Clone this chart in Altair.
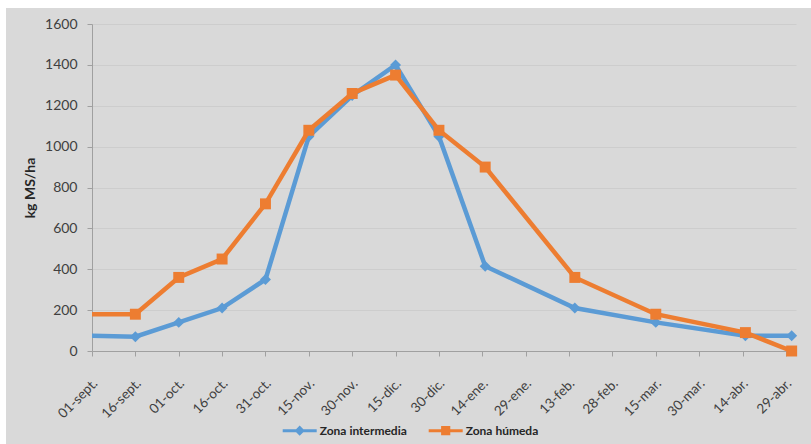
import altair as alt
import pandas as pd

# Fechas de muestreo (la primera queda antes del inicio del eje)
fechas = ["2014-08-17", "2014-09-16", "2014-10-01", "2014-10-16", "2014-10-31",
          "2014-11-15", "2014-11-30", "2014-12-15", "2014-12-30", "2015-01-15",
          "2015-02-15", "2015-03-15", "2015-04-15", "2015-05-01"]
zona_intermedia = [80, 70, 140, 210, 350, 1050, 1250, 1400, 1050, 415, 210, 140, 75, 75]
zona_humeda = [180, 180, 360, 450, 720, 1080, 1260, 1350, 1080, 900, 360, 180, 90, 0]

etiquetas_x = ["01-sept.", "16-sept.", "01-oct.", "16-oct.", "31-oct.", "15-nov.",
               "30-nov.", "15-dic.", "30-dic.", "14-ene.", "29-ene.", "13-feb.",
               "28-feb.", "15-mar.", "30-mar.", "14-abr.", "29-abr."]
valores_y = [0, 200, 400, 600, 800, 1000, 1200, 1400, 1600]

series = ["Zona intermedia", "Zona húmeda"]
colores = ["#5b9bd5", "#ed7d31"]
marcadores = ["diamond", "square"]
# Símbolos de la leyenda: trazo horizontal con su marcador
simbolos_leyenda = [
    "M-1,-0.09L1,-0.09L1,0.09L-1,0.09Z M0,-0.3L0.3,0L0,0.3L-0.3,0Z",
    "M-1,-0.09L1,-0.09L1,0.09L-1,0.09Z M-0.27,-0.27L0.27,-0.27L0.27,0.27L-0.27,0.27Z",
]

inicio = pd.Timestamp("2014-09-01")
dias = [(pd.Timestamp(f) - inicio).days for f in fechas]

df = pd.concat([
    pd.DataFrame({"fecha": fechas, "dia": dias, "serie": series[0], "valor": zona_intermedia}),
    pd.DataFrame({"fecha": fechas, "dia": dias, "serie": series[1], "valor": zona_humeda}),
], ignore_index=True)

lista_js = "[" + ",".join("'" + e + "'" for e in etiquetas_x) + "]"

x_enc = alt.X(
    "dia:Q",
    scale=alt.Scale(domain=[0, 243.5], nice=False, zero=False),
    axis=alt.Axis(
        values=list(range(0, 15 * len(etiquetas_x), 15)),
        labelExpr=lista_js + "[round(datum.value / 15)]",
        labelAngle=-45, labelAlign="right", labelBaseline="middle",
        labelOverlap=False, labelBound=False, labelFlush=False,
        labelFontSize=13.5, labelColor="#404040", labelPadding=25, labelOffset=3,
        tickSize=5, tickColor="#a0a0a0", domainColor="#a0a0a0",
        grid=False, title=None,
    ),
)
y_enc = alt.Y(
    "valor:Q",
    scale=alt.Scale(domain=[0, 1600], nice=False),
    axis=alt.Axis(
        values=valores_y, format="d", labelFontSize=14, labelColor="#404040", labelPadding=10,
        tickSize=5, tickColor="#a0a0a0", domainColor="#a0a0a0",
        gridColor="#cdcdcd", gridWidth=1.2,
        title="kg MS/ha", titleFontSize=14, titleFontWeight="bold",
        titleColor="#262626", titlePadding=7,
    ),
)

base = alt.Chart(df)

capas = []
for nombre, color, marca in zip(series, colores, marcadores):
    datos = base.transform_filter(alt.datum.serie == nombre)
    capas.append(datos.mark_line(color=color, strokeWidth=4.5, clip=True).encode(x=x_enc, y=y_enc))
    capas.append(
        datos.transform_filter(alt.datum.dia >= 0)
        .mark_point(shape=marca, filled=True, color=color, size=120, opacity=1)
        .encode(x=x_enc, y=y_enc)
    )

leyenda_cfg = alt.Legend(
    orient="none", legendX=190.7, legendY=389.7, direction="horizontal",
    title=None, symbolSize=1156, symbolStrokeWidth=0, symbolOpacity=1,
    labelFont="Lato", labelFontSize=12, labelFontWeight="bold",
    labelColor="#262626", labelOffset=3, columnPadding=21, padding=0,
)
leyenda = base.transform_filter("false").mark_point(filled=True, opacity=1).encode(
    x=x_enc, y=y_enc,
    color=alt.Color("serie:N", scale=alt.Scale(domain=series, range=colores), legend=leyenda_cfg),
    shape=alt.Shape("serie:N", scale=alt.Scale(domain=series, range=simbolos_leyenda), legend=leyenda_cfg),
)

# Franjas blancas del marco exterior
marco = alt.Chart(pd.DataFrame({"k": [0]}))
franja_sup = marco.mark_rect(color="white").encode(
    x=alt.value(-92), x2=alt.value(719), y=alt.value(-24), y2=alt.value(-16))
franja_izq = marco.mark_rect(color="white").encode(
    x=alt.value(-92), x2=alt.value(-86), y=alt.value(-24), y2=alt.value(420))

chart = alt.layer(franja_sup, franja_izq, *capas, leyenda).properties(
    width=704, height=327,
    autosize=alt.AutoSizeParams(type="none"),
    padding={"left": 92, "top": 24, "right": 15, "bottom": 93},
    background="#d9d9d9",
).configure(font="Lato").configure_view(stroke=None, fill=None)

chart.save("out.html", embed_options={"renderer": "svg", "actions": False})
